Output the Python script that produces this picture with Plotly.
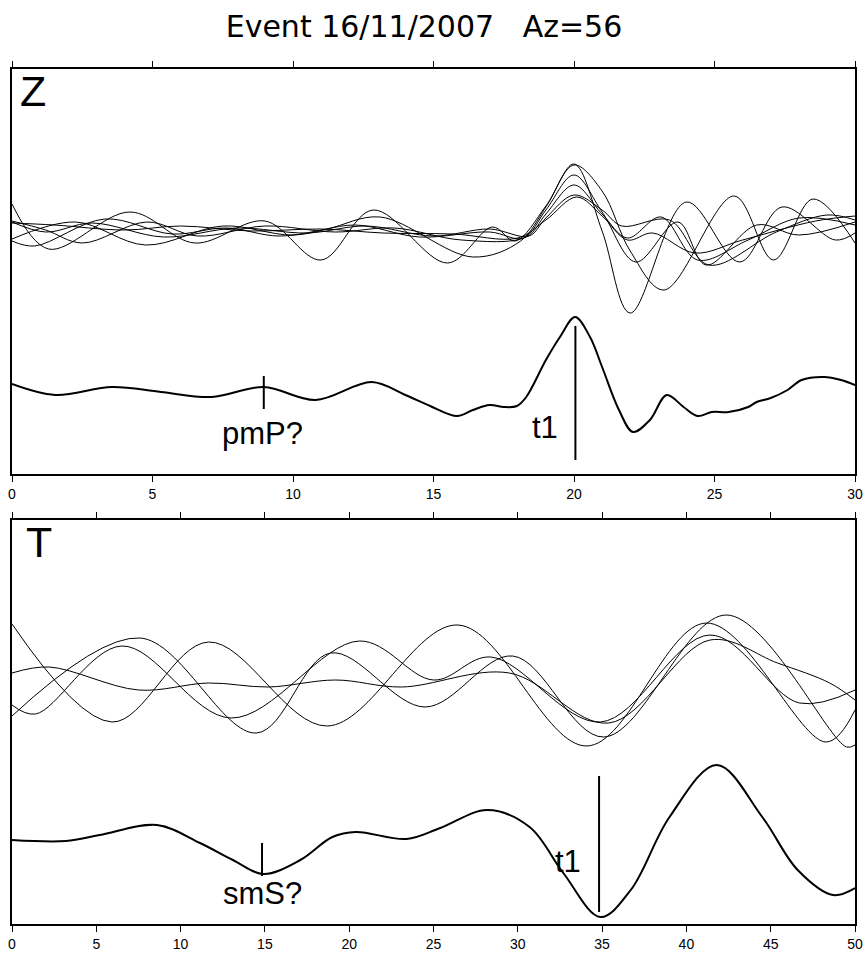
import plotly.graph_objects as go

# ---------------- Z component (time in s, amplitude in arbitrary units) ----------------
z1_t = [0, 1.3, 4.2, 6.5, 9.0, 11.0, 12.85, 15.5, 17.1, 17.9, 19.0, 20.0, 21.0, 22.0, 24.0, 25.9, 27.4, 29.3, 30]
z1_a = [26, -19, 18, -13, 9, -30, 20, -33, 3, -11, 24, 66, -1, -83, 28, -32, 23, -10, -3]

z2_t = [0, 0.8, 3.3, 5.7, 7.6, 9.5, 11.2, 13.1, 16.4, 18.1, 19.0, 20.0, 21.0, 22.0, 23.2, 25.7, 27.1, 28.5, 30]
z2_a = [-11, -16, 11, -4, 2, -6, 1, 13, -27, -11, 23, 65, 39, -21, -60, 34, -30, 31, -13]

z3_t = [0, 2.25, 4.75, 7.5, 10.0, 12.2, 14.5, 17.0, 18.2, 19.0, 20.0, 21.0, 22.2, 23.7, 24.7, 26.5, 28.0, 30]
z3_a = [-9, 8, -15, 4, -5, 5, -7, -2, -8, 20, 55, 18, -32, 8, -35, 5, -5, 8]

z4_t = [0, 1.2, 2.5, 4.8, 6.6, 9.0, 11.5, 13.6, 16.0, 18.3, 19.0, 20.0, 21.0, 21.9, 23.1, 24.4, 26.2, 28.0, 30]
z4_a = [9, 0, -13, 8, -6, 4, -2, 2, -10, -7, 16, 45, 16, -8, 13, -30, -10, 12, 5]

z5_t = [0, 1.2, 2.85, 5.4, 8.0, 10.5, 12.6, 15.0, 17.0, 18.4, 19.0, 20.0, 21.0, 21.7, 23.4, 24.8, 27.2, 29.0, 30]
z5_a = [8, -2, 7, -7, 2, -3, 4, -6, 1, -6, 12, 35, 20, 4, 10, -35, -2, 15, 10]

z6_t = [0, 1.5, 4.0, 6.0, 8.5, 11.0, 13.2, 15.7, 18.0, 19.0, 20.1, 21.0, 21.9, 22.8, 24.3, 26.0, 28.6, 30]
z6_a = [7, 5, 0, 4, -1, 1, -3, -4, -8, 10, 33, 14, -10, -3, -23, -10, 9, 14]

# Z stack (thick trace)
zs_t = [0, 1.54, 3.56, 5.3, 7.1, 8.96, 10.8, 12.8, 14.0, 14.88, 15.84, 16.4, 17.0, 17.5, 17.97,
        18.3, 19.0, 19.5, 20.04, 20.57, 21.0, 21.6, 22.1, 22.7, 23.3, 23.9, 24.4, 24.9, 25.5,
        26.2, 26.5, 27.0, 27.6, 28.1, 28.9, 29.5, 30]
zs_a = [1, -10, -2, -7, -12, -2, -15, 3, -10, -21, -31, -25, -20, -22, -21,
        -12, 25, 48, 68, 48, 18, -25, -47, -35, -10, -22, -31, -27, -27,
        -22, -17, -13, -5, 5, 8, 5, 0]

# Z picks
z_pick_names = ["pmP?", "t1"]
z_pick_t = [8.96, 20.05]
z_pick_lo = [65, 14]
z_pick_hi = [98, 148]

# ---------------- T component ----------------
t1_t = [0, 5.93, 11.66, 18.7, 26.45, 34.1, 41.2, 48.3, 50]
t1_a = [56, -42, 38, -46, 55, -66, 57, -62, -30]

t2_t = [0, 2.2, 7.5, 11.66, 15.2, 19.2, 23.1, 29.5, 35.4, 41.4, 45.4, 48.5, 50]
t2_a = [7, 13, -10, -3, -7, 0, -7, 7, -43, 40, 17, -3, -20]

t3_t = [0, 1.4, 6.5, 13.0, 20.6, 25.0, 28.4, 34.9, 41.4, 46.7, 50]
t3_a = [-25, -34, 34, -38, 39, 0, 23, -42, 45, -23, -10]

t4_t = [0, 7.6, 14.5, 18.9, 24.5, 29.7, 35.1, 42.4, 49.5, 50]
t4_a = [-36, 42, -53, 27, -27, 24, -57, 65, -67, -65]

# T stack (thick trace)
ts_t = [0, 3.2, 5.2, 8.6, 11.15, 13.1, 14.9, 17.1, 19.0, 20.4, 23.4, 25.4, 28.2, 30.7, 32.7,
        34.9, 36.7, 39.0, 41.8, 44.5, 46.6, 48.7, 50]
ts_a = [0, -1, 5, 15, -3, -20, -34, -20, 3, 8, 1, 12, 30, 13, -33,
        -77, -50, 23, 75, 23, -30, -55, -48]

# T picks
t_pick_names = ["smS?", "t1"]
t_pick_t = [14.83, 34.82]
t_pick_lo = [48, 12]
t_pick_hi = [81, 148]

# ---------------- layout constants ----------------
W, H = 867, 954
Z_CLUSTER_OFF, Z_STACK_OFF = 244, 89
T_CLUSTER_OFF, T_STACK_OFF = 244, 84
Z_YRANGE = [0, 405]
T_YRANGE = [0, 404]

fig = go.Figure()


def add_trace(t, a, off, xa, ya, width):
    fig.add_trace(go.Scatter(
        x=t, y=[off + v for v in a], mode="lines",
        line=dict(color="black", width=width, shape="spline", smoothing=1.0),
        xaxis=xa, yaxis=ya, hoverinfo="skip", showlegend=False))


for t, a in [(z1_t, z1_a), (z2_t, z2_a), (z3_t, z3_a), (z4_t, z4_a), (z5_t, z5_a), (z6_t, z6_a)]:
    add_trace(t, a, Z_CLUSTER_OFF, "x", "y", 1)
add_trace(zs_t, zs_a, Z_STACK_OFF, "x", "y", 2)

for t, a in [(t1_t, t1_a), (t2_t, t2_a), (t3_t, t3_a), (t4_t, t4_a)]:
    add_trace(t, a, T_CLUSTER_OFF, "x2", "y2", 1)
add_trace(ts_t, ts_a, T_STACK_OFF, "x2", "y2", 2)

# pick lines
for tp, lo, hi in zip(z_pick_t, z_pick_lo, z_pick_hi):
    fig.add_trace(go.Scatter(x=[tp, tp], y=[lo, hi], mode="lines",
                             line=dict(color="black", width=2),
                             xaxis="x", yaxis="y", hoverinfo="skip", showlegend=False))
for tp, lo, hi in zip(t_pick_t, t_pick_lo, t_pick_hi):
    fig.add_trace(go.Scatter(x=[tp, tp], y=[lo, hi], mode="lines",
                             line=dict(color="black", width=2),
                             xaxis="x2", yaxis="y2", hoverinfo="skip", showlegend=False))

FONT = "Liberation Sans, Arial, sans-serif"
lab_font = dict(family=FONT, size=31, color="black")
annotations = [
    dict(text="Z", x=0.2, y=383, xref="x", yref="y", xanchor="left", yanchor="middle",
         showarrow=False, font=dict(family=FONT, size=43, color="black")),
    dict(text="T", x=0.7, y=382, xref="x2", yref="y2", xanchor="left", yanchor="middle",
         showarrow=False, font=dict(family=FONT, size=43, color="black")),
    dict(text=z_pick_names[0], x=8.93, y=41, xref="x", yref="y", xanchor="center", yanchor="middle",
         showarrow=False, font=lab_font),
    dict(text=z_pick_names[1], x=18.97, y=47, xref="x", yref="y", xanchor="center", yanchor="middle",
         showarrow=False, font=lab_font),
    dict(text=t_pick_names[0], x=14.83, y=31, xref="x2", yref="y2", xanchor="center", yanchor="middle",
         showarrow=False, font=lab_font),
    dict(text=t_pick_names[1], x=32.98, y=63, xref="x2", yref="y2", xanchor="center", yanchor="middle",
         showarrow=False, font=lab_font),
]

xdom = [12 / W, 855 / W]
axis_common = dict(showline=True, linecolor="black", linewidth=2, mirror="ticks",
                   ticks="outside", ticklen=6, tickwidth=1, tickcolor="black",
                   showgrid=False, zeroline=False, dtick=5, automargin=False,
                   tickfont=dict(family=FONT, size=14, color="black"))
yaxis_common = dict(showline=True, linecolor="black", linewidth=2, mirror=True, automargin=False,
                    ticks="", showticklabels=False, showgrid=False, zeroline=False)

fig.update_layout(
    template="none",
    width=W, height=H, autosize=False,
    margin=dict(l=0, r=0, t=0, b=0, pad=0),
    paper_bgcolor="white", plot_bgcolor="white",
    title=dict(text="Event 16/11/2007\u00a0\u00a0\u00a0Az=56", x=424 / W, xanchor="center",
               y=1 - 26 / H, yanchor="middle", yref="paper", automargin=False,
               font=dict(family="DejaVu Sans, sans-serif", size=30, color="black")),
    xaxis=dict(domain=xdom, range=[0, 30], anchor="y", tick0=0, **axis_common),
    yaxis=dict(domain=[1 - 474 / H, 1 - 69 / H], range=Z_YRANGE, anchor="x", **yaxis_common),
    xaxis2=dict(domain=xdom, range=[0, 50], anchor="y2", tick0=0, **axis_common),
    yaxis2=dict(domain=[1 - 924 / H, 1 - 520 / H], range=T_YRANGE, anchor="x2", **yaxis_common),
    annotations=annotations,
    showlegend=False,
)

fig.write_html("out.html")
